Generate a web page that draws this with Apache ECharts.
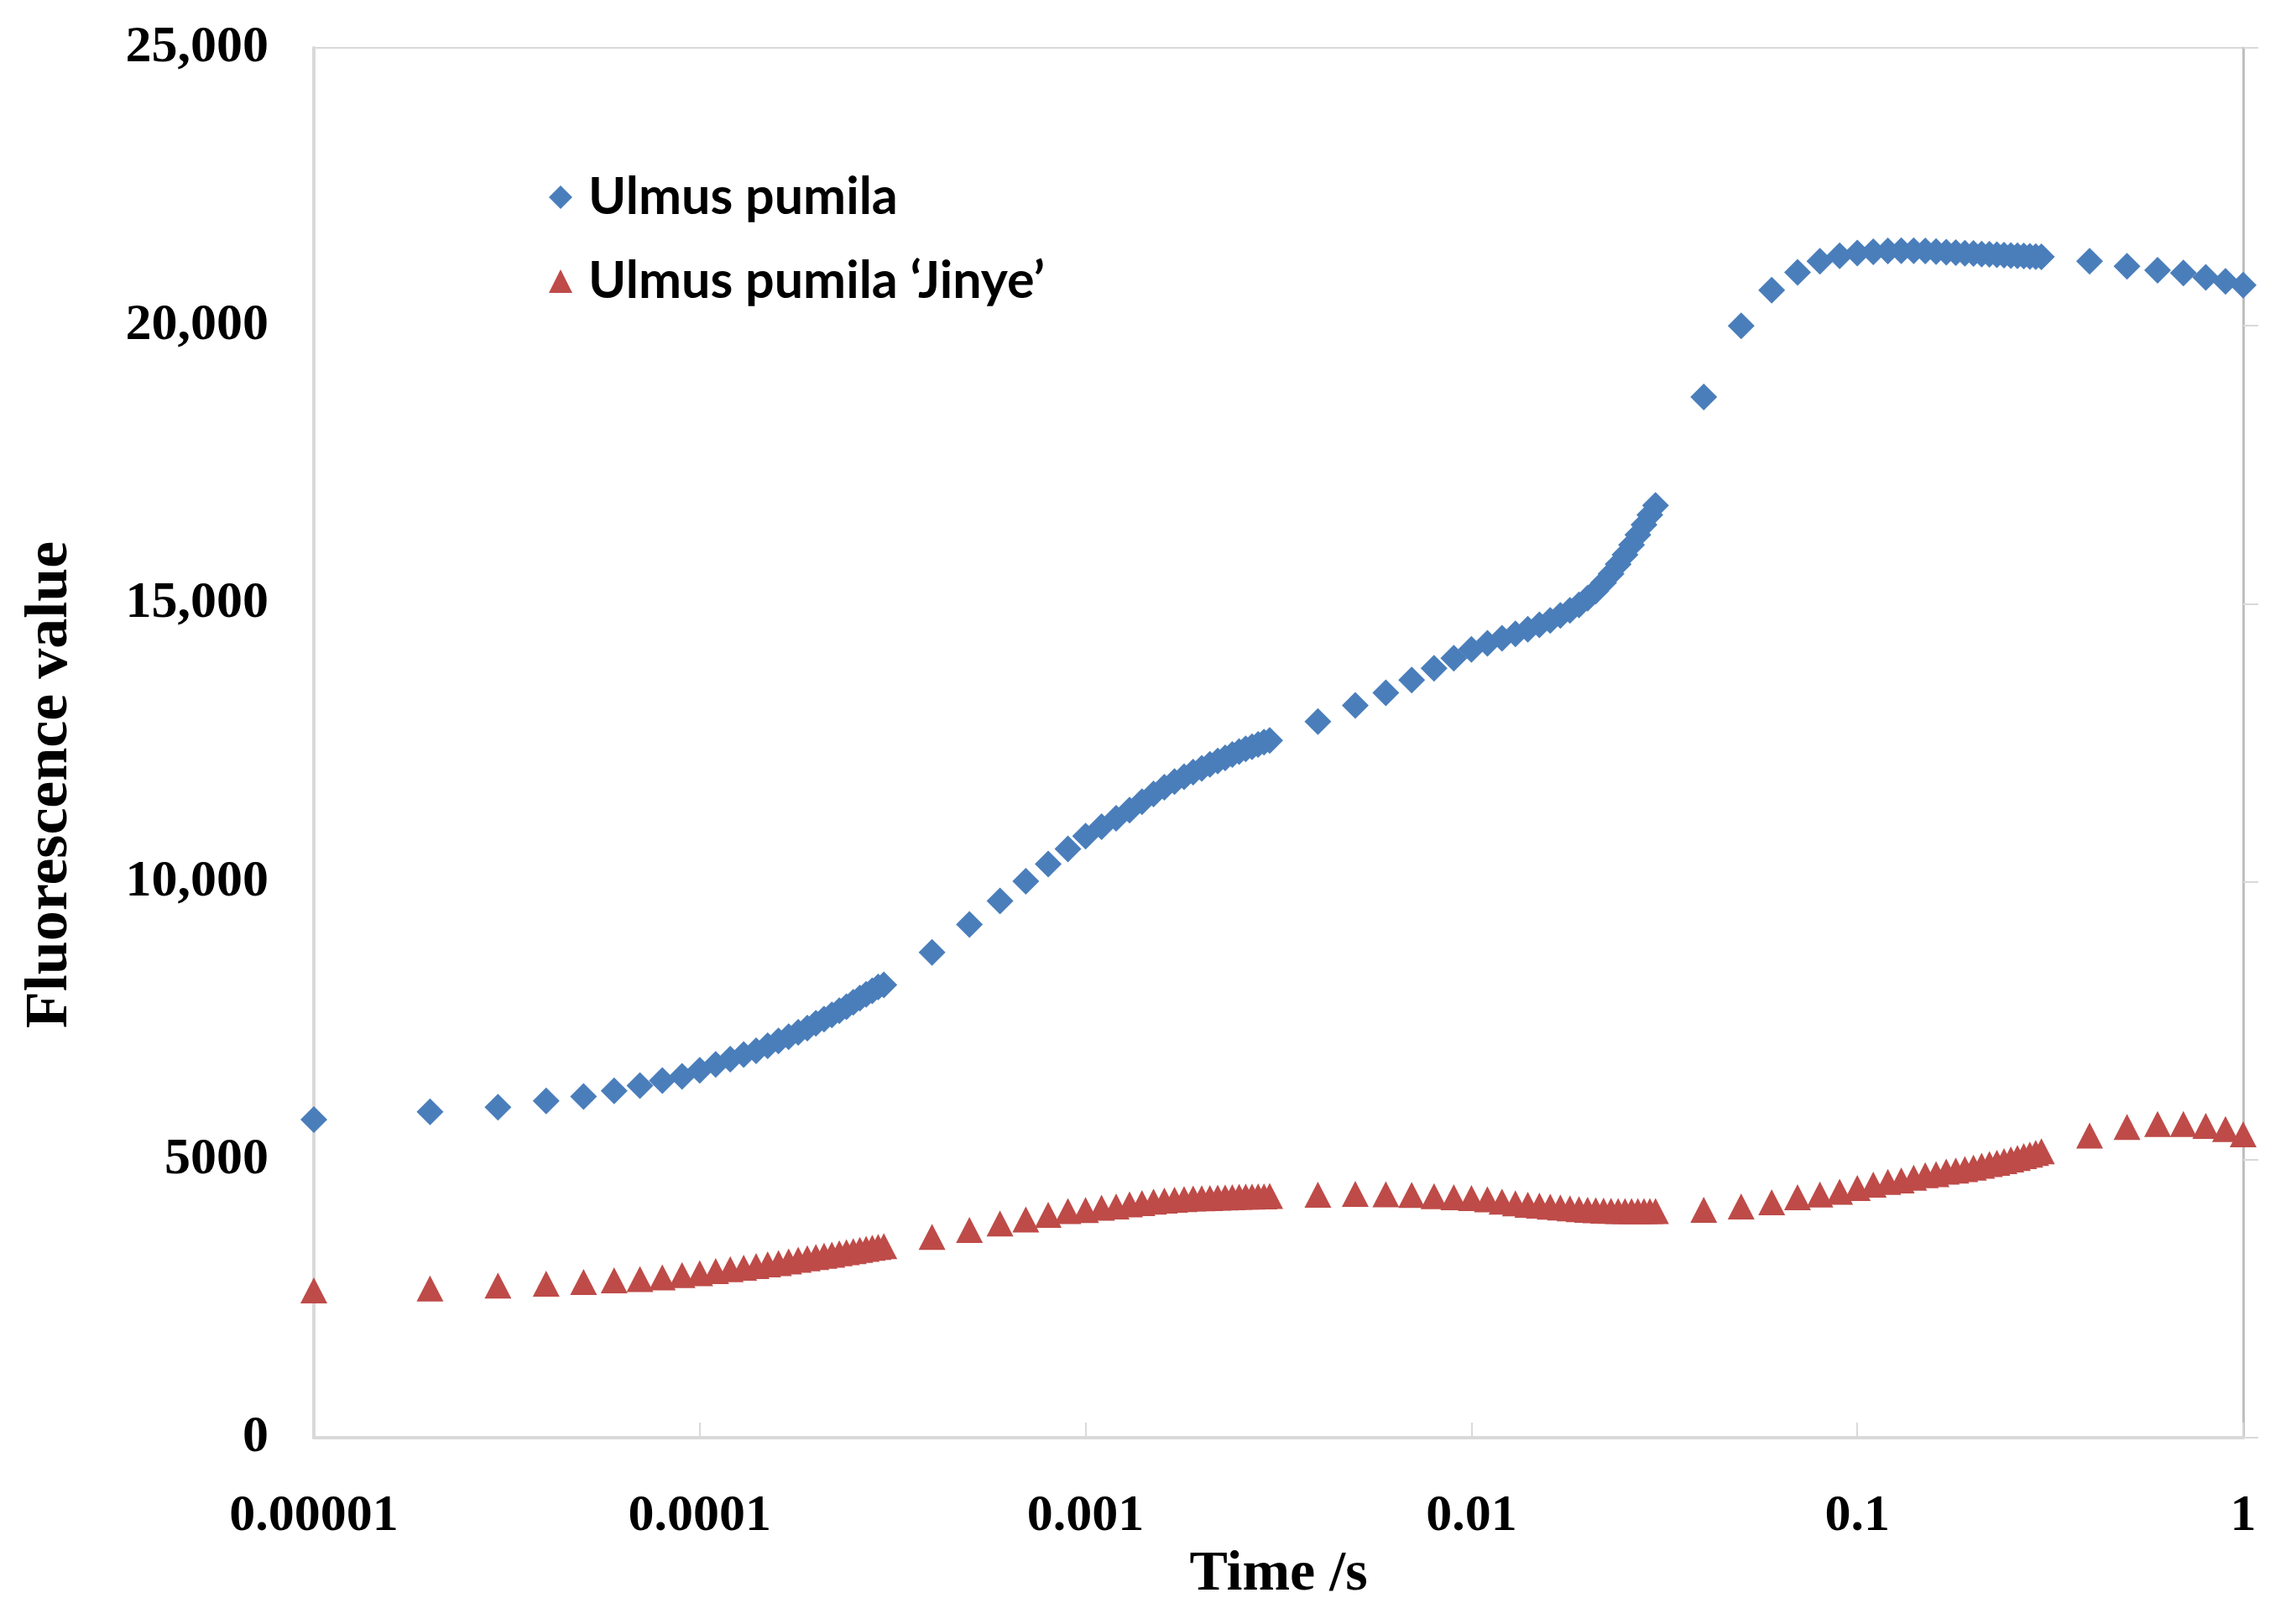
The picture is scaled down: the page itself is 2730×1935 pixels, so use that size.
<!DOCTYPE html>
<html>
<head>
<meta charset="utf-8">
<script src="https://cdn.jsdelivr.net/npm/echarts@6/dist/echarts.min.js"></script>
<style>
html,body{margin:0;padding:0;background:#fff;}
#chart{width:2730px;height:1935px;}
</style>
</head>
<body>
<div id="chart"></div>
<script>
// ---- data ----
const seriesNames = ['Ulmus pumila', 'Ulmus pumila \u2018Jinye\u2019'];
const xTickLabels = ['0.00001', '0.0001', '0.001', '0.01', '0.1', '1'];
const yTickLabels = ['0', '5000', '10,000', '15,000', '20,000', '25,000'];

const times = [
  0.00001, 0.00002, 0.00003, 0.00004, 0.00005, 0.00006, 0.00007, 0.00008, 0.00009, 0.0001,
  0.00011, 0.00012, 0.00013, 0.00014, 0.00015, 0.00016, 0.00017, 0.00018, 0.00019, 0.0002,
  0.00021, 0.00022, 0.00023, 0.00024, 0.00025, 0.00026, 0.00027, 0.00028, 0.00029, 0.0003,
  0.0004, 0.0005, 0.0006, 0.0007, 0.0008, 0.0009, 0.001,
  0.0011, 0.0012, 0.0013, 0.0014, 0.0015, 0.0016, 0.0017, 0.0018, 0.0019, 0.002,
  0.0021, 0.0022, 0.0023, 0.0024, 0.0025, 0.0026, 0.0027, 0.0028, 0.0029, 0.003,
  0.004, 0.005, 0.006, 0.007, 0.008, 0.009, 0.01,
  0.011, 0.012, 0.013, 0.014, 0.015, 0.016, 0.017, 0.018, 0.019, 0.02,
  0.021, 0.022, 0.023, 0.024, 0.025, 0.026, 0.027, 0.028, 0.029, 0.03,
  0.04, 0.05, 0.06, 0.07, 0.08, 0.09, 0.1,
  0.11, 0.12, 0.13, 0.14, 0.15, 0.16, 0.17, 0.18, 0.19, 0.2,
  0.21, 0.22, 0.23, 0.24, 0.25, 0.26, 0.27, 0.28, 0.29, 0.3,
  0.4, 0.5, 0.6, 0.7, 0.8, 0.9, 1
];

const ulmusPumila = [
  5720, 5860, 5946, 6057, 6137, 6237, 6333, 6423, 6499, 6609,
  6715, 6810, 6890, 6960, 7050, 7136, 7212, 7292, 7367, 7453,
  7528, 7604, 7679, 7754, 7830, 7905, 7975, 8040, 8106, 8146,
  8730, 9230, 9655, 10010, 10320, 10590, 10820,
  10990, 11140, 11290, 11440, 11580, 11700, 11800, 11890, 11970, 12040,
  12110, 12170, 12230, 12290, 12340, 12390, 12430, 12470, 12510, 12540,
  12880, 13170, 13400, 13630, 13840, 14020, 14180,
  14290, 14380, 14460, 14540, 14620, 14700, 14790, 14880, 14980, 15100,
  15230, 15380, 15540, 15710, 15880, 16060, 16240, 16420, 16600, 16770,
  18720, 20000, 20640, 20960, 21160, 21260, 21310,
  21330, 21345, 21350, 21350, 21345, 21335, 21325, 21315, 21305, 21300,
  21290, 21285, 21280, 21270, 21265, 21260, 21255, 21250, 21245, 21240,
  21160, 21070, 21000, 20950, 20870, 20800, 20730
];

const ulmusJinye = [
  2650, 2685, 2735, 2770, 2800, 2830, 2855, 2885, 2925, 2960,
  2996, 3031, 3056, 3086, 3116, 3141, 3171, 3201, 3226, 3251,
  3271, 3291, 3316, 3336, 3356, 3376, 3396, 3416, 3431, 3446,
  3610, 3735, 3855, 3925, 4010, 4075, 4095,
  4136, 4161, 4196, 4221, 4246, 4266, 4281, 4291, 4301, 4306,
  4311, 4316, 4321, 4326, 4331, 4336, 4336, 4341, 4341, 4346,
  4372, 4387, 4377, 4367, 4345, 4325, 4311,
  4286, 4246, 4216, 4191, 4176, 4156, 4141, 4126, 4111, 4100,
  4090, 4085, 4080, 4075, 4075, 4075, 4075, 4075, 4075, 4075,
  4100, 4160, 4235, 4325, 4375, 4425, 4490,
  4551, 4601, 4626, 4676, 4721, 4741, 4786, 4806, 4831, 4856,
  4891, 4921, 4946, 4976, 5006, 5031, 5066, 5091, 5121, 5150,
  5433, 5588, 5643, 5643, 5608, 5553, 5458
];

// ---- chart ----
const pairs = (ys) => times.map((t, i) => [t, ys[i]]);
const serifBold = { fontFamily: 'Liberation Serif', fontWeight: 'bold', color: '#000' };

const chart = echarts.init(document.getElementById('chart'), null, { renderer: 'canvas' });
chart.setOption({
  backgroundColor: '#ffffff',
  animation: false,
  grid: {
    left: 374, right: 57, top: 57, bottom: 222,
    show: true, borderColor: '#d9d9d9', borderWidth: 2, backgroundColor: 'transparent'
  },
  legend: {
    left: 649, top: 194, orient: 'vertical', itemGap: 28,
    itemWidth: 28, itemHeight: 28,
    data: [
      { name: seriesNames[0], icon: 'diamond' },
      { name: seriesNames[1], icon: 'triangle' }
    ],
    textStyle: {
      fontFamily: 'Lato', fontWeight: 'bold', fontSize: 61, lineHeight: 72,
      color: '#000', padding: [0, 0, 0, 14]
    }
  },
  xAxis: {
    type: 'log', logBase: 10, min: 0.00001, max: 1,
    name: 'Time /s', nameLocation: 'middle', nameGap: 101,
    nameTextStyle: Object.assign({ fontSize: 68 }, serifBold),
    axisLine: { show: true, lineStyle: { color: '#d9d9d9', width: 4 } },
    axisTick: { show: true, inside: true, length: 18, lineStyle: { color: '#d9d9d9', width: 2 } },
    minorTick: { show: false },
    splitLine: { show: false },
    axisLabel: Object.assign({
      fontSize: 62, margin: 63, showMinLabel: true, showMaxLabel: true,
      formatter: (v) => xTickLabels[Math.round(Math.log10(v)) + 5]
    }, serifBold)
  },
  yAxis: [
    {
      type: 'value', min: 0, max: 25000, interval: 5000, position: 'left',
      name: 'Fluorescence value', nameLocation: 'middle', nameGap: 278, nameRotate: 90,
      nameTextStyle: Object.assign({ fontSize: 72, padding: [0, 100, 0, 0] }, serifBold),
      axisLine: { show: true, lineStyle: { color: '#d9d9d9', width: 4 } },
      axisTick: { show: false },
      splitLine: { show: false },
      axisLabel: Object.assign({
        fontSize: 62, margin: 54,
        formatter: (v) => yTickLabels[Math.round(v / 5000)]
      }, serifBold)
    },
    {
      type: 'value', min: 0, max: 25000, interval: 5000, position: 'right',
      axisLine: { show: true, lineStyle: { color: '#bfbfbf', width: 3 } },
      axisTick: { show: true, inside: false, length: 18, lineStyle: { color: '#d9d9d9', width: 2 } },
      splitLine: { show: false },
      axisLabel: { show: false }
    }
  ],
  series: [
    {
      name: seriesNames[0], type: 'scatter', symbol: 'diamond', symbolSize: [32, 32],
      itemStyle: { color: '#4A7EBB', opacity: 1 }, data: pairs(ulmusPumila), clip: false
    },
    {
      name: seriesNames[1], type: 'scatter', symbol: 'triangle', symbolSize: [32, 31],
      itemStyle: { color: '#BE4B48', opacity: 1 }, data: pairs(ulmusJinye), clip: false
    }
  ]
});
</script>
</body>
</html>
